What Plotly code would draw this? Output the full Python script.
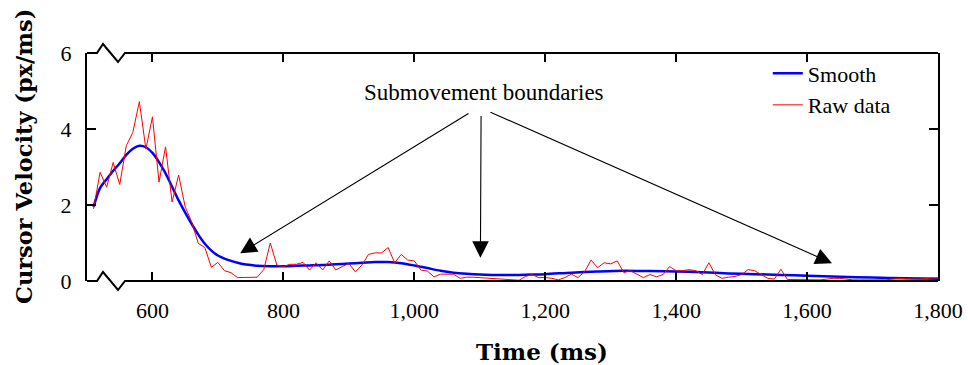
import plotly.graph_objects as go

# ---------------- data ----------------
raw_time = [510, 520, 530, 540, 550, 560, 570, 580, 590, 600,
            610, 620, 630, 640, 650, 660, 670, 680, 690, 700,
            710, 720, 730, 740, 750, 760, 770, 780, 790, 800,
            810, 820, 830, 840, 850, 860, 870, 880, 890, 900,
            910, 920, 930, 940, 950, 960, 970, 980, 990, 1000,
            1010, 1020, 1030, 1040, 1050, 1060, 1070, 1080, 1090, 1100,
            1110, 1120, 1130, 1140, 1150, 1160, 1170, 1180, 1190, 1200,
            1210, 1220, 1230, 1240, 1250, 1260, 1270, 1280, 1290, 1300,
            1310, 1320, 1330, 1340, 1350, 1360, 1370, 1380, 1390, 1400,
            1410, 1420, 1430, 1440, 1450, 1460, 1470, 1480, 1490, 1500,
            1510, 1520, 1530, 1540, 1550, 1560, 1570, 1580, 1590, 1600,
            1610, 1620, 1630, 1640, 1650, 1660, 1670, 1680, 1690, 1700,
            1710, 1720, 1730, 1740, 1750, 1760, 1770, 1780, 1790, 1800]
raw_velocity = [1.90, 2.86, 2.47, 3.12, 2.54, 3.56, 3.91, 4.72, 3.47, 4.32,
                2.60, 3.53, 2.08, 2.79, 1.95, 1.55, 0.99, 0.88, 0.36, 0.49,
                0.27, 0.22, 0.09, 0.09, 0.09, 0.10, 0.30, 1.00, 0.42, 0.38,
                0.44, 0.44, 0.49, 0.29, 0.48, 0.29, 0.53, 0.29, 0.38, 0.46,
                0.24, 0.42, 0.70, 0.74, 0.74, 0.88, 0.48, 0.70, 0.55, 0.53,
                0.29, 0.26, 0.11, 0.18, 0.18, 0.18, 0.07, 0.10, 0.10, 0.09,
                0.08, 0.06, 0.05, 0.04, 0.03, 0.02, 0.12, 0.17, 0.09, 0.09,
                0.07, 0.03, 0.09, 0.18, 0.09, 0.24, 0.55, 0.35, 0.48, 0.45,
                0.53, 0.22, 0.27, 0.18, 0.09, 0.17, 0.11, 0.17, 0.38, 0.27,
                0.27, 0.30, 0.27, 0.17, 0.48, 0.16, 0.07, 0.10, 0.12, 0.17,
                0.30, 0.27, 0.17, 0.07, 0.05, 0.31, 0.04, 0.04, 0.03, 0.03,
                0.03, 0.03, 0.05, 0.07, 0.07, 0.05, 0.03, 0.03, 0.03, 0.03,
                0.04, 0.03, 0.05, 0.07, 0.06, 0.05, 0.05, 0.06, 0.08, 0.08]

smooth_time = [510, 520, 530, 540, 550, 560, 570, 580, 590, 600,
               610, 620, 630, 640, 650, 660, 670, 680, 690, 700,
               710, 720, 730, 740, 750, 760, 780, 800, 820, 840,
               860, 880, 900, 920, 940, 960, 980, 1000, 1020, 1040,
               1060, 1080, 1100, 1120, 1140, 1160, 1180, 1200, 1240, 1280,
               1320, 1360, 1400, 1440, 1480, 1520, 1560, 1600, 1650, 1700,
               1750, 1800]
smooth_velocity = [1.95, 2.45, 2.68, 2.90, 3.10, 3.32, 3.48, 3.56, 3.52, 3.37,
                   3.13, 2.83, 2.48, 2.12, 1.80, 1.50, 1.22, 0.98, 0.80, 0.67,
                   0.59, 0.53, 0.48, 0.44, 0.42, 0.40, 0.39, 0.39, 0.40, 0.41,
                   0.42, 0.44, 0.46, 0.48, 0.50, 0.50, 0.47, 0.41, 0.34, 0.27,
                   0.22, 0.19, 0.17, 0.16, 0.155, 0.16, 0.17, 0.18, 0.22, 0.25,
                   0.27, 0.26, 0.25, 0.23, 0.20, 0.18, 0.16, 0.14, 0.11, 0.09,
                   0.07, 0.06]

x_tickvals = [600, 800, 1000, 1200, 1400, 1600, 1800]
x_ticktext = ["600", "800", "1,000", "1,200", "1,400", "1,600", "1,800"]
y_tickvals = [0, 2, 4, 6]

x_title = "Time (ms)"
y_title = "Cursor Velocity (px/ms)"
annotation_label = "Submovement boundaries"
label_pos = (1107, 4.96)
# arrow heads (boundary positions) and arrow tails
arrow_heads = [(734, 0.73), (1101, 0.61), (1638, 0.47)]
arrow_tails = [(1085, 4.43), (1102, 4.38), (1114, 4.46)]

# ---------------- figure ----------------
W, H = 968, 365
ML, MR, MT, MB = 87, 30, 53, 84
PW, PH = W - ML - MR, H - MT - MB

SERIF = "Liberation Serif"
BOLD = "DejaVu Serif"

fig = go.Figure()
fig.add_trace(go.Scatter(x=smooth_time, y=smooth_velocity, mode="lines",
                         name="Smooth", line=dict(color="#0000FF", width=2.5, shape="spline", smoothing=0.8)))
fig.add_trace(go.Scatter(x=raw_time, y=raw_velocity, mode="lines",
                         name="Raw data", line=dict(color="#FF0000", width=1)))


def px2paper(dx, dy):
    return dx / PW, dy / PH


def zigzag(ybase_px):
    # points in pixels relative to plot-left and ybase (px from bottom), upward positive
    pts = [(0, 0), (10, 0), (16, 9), (31, -9), (38, 0), (PW, 0)]
    d = ""
    for i, (xx, yy) in enumerate(pts):
        px_, py_ = px2paper(xx, ybase_px + yy)
        d += ("M" if i == 0 else "L") + f"{px_:.5f},{py_:.5f} "
    return d


shapes = [
    dict(type="path", xref="paper", yref="paper", path=zigzag(0),
         line=dict(color="black", width=2)),
    dict(type="path", xref="paper", yref="paper", path=zigzag(PH),
         line=dict(color="black", width=2)),
]

annotations = [dict(x=label_pos[0], y=label_pos[1], xref="x", yref="y",
                    text=annotation_label, showarrow=False,
                    font=dict(family=SERIF, size=23, color="black"))]
for (hx, hy), (tx, ty) in zip(arrow_heads, arrow_tails):
    annotations.append(dict(x=hx, y=hy, xref="x", yref="y", ax=tx, ay=ty,
                            axref="x", ayref="y", text="", showarrow=True,
                            arrowhead=2, arrowsize=3.0, arrowwidth=1.1,
                            arrowcolor="black", standoff=0, startstandoff=0))

# axis titles (placed to match the reference position)
xt_x, xt_y = px2paper(542 - ML, (H - MB) - 351)
yt_x, yt_y = px2paper(24 - ML, (H - MB) - 157)
annotations.append(dict(x=xt_x, y=xt_y, xref="paper", yref="paper", text=x_title,
                        showarrow=False, xanchor="center", yanchor="middle",
                        font=dict(family=BOLD, size=23, weight="bold", color="black")))
annotations.append(dict(x=yt_x, y=yt_y, xref="paper", yref="paper", text=y_title,
                        showarrow=False, xanchor="center", yanchor="middle", textangle=-90,
                        font=dict(family=BOLD, size=22.5, weight="bold", color="black")))

fig.update_layout(
    width=W, height=H,
    margin=dict(l=ML, r=MR, t=MT, b=MB, autoexpand=False),
    plot_bgcolor="white", paper_bgcolor="white",
    font=dict(family=SERIF, size=22, color="black"),
    shapes=shapes, annotations=annotations,
    legend=dict(x=0.80, y=1.0025, xanchor="left", yanchor="top",
                bgcolor="rgba(0,0,0,0)", borderwidth=0,
                font=dict(family=SERIF, size=22, color="black")),
    xaxis=dict(range=[500, 1800], tickvals=x_tickvals, ticktext=x_ticktext,
               ticks="inside", ticklen=9, tickwidth=2, tickcolor="black",
               showline=False, mirror="ticks", showgrid=False, zeroline=False,
               ticklabelstandoff=14, automargin=False,
               tickfont=dict(family=SERIF, size=22, color="black")),
    yaxis=dict(range=[0, 6], tickvals=y_tickvals,
               ticks="inside", ticklen=9, tickwidth=2, tickcolor="black",
               showline=True, linewidth=2, linecolor="black", mirror="ticks",
               showgrid=False, zeroline=False, ticklabelstandoff=9, automargin=False,
               tickfont=dict(family=SERIF, size=22, color="black")),
)

fig.write_html("out.html", config={"displayModeBar": False},
               post_script="document.body.style.margin='0';document.body.style.overflow='hidden';")
